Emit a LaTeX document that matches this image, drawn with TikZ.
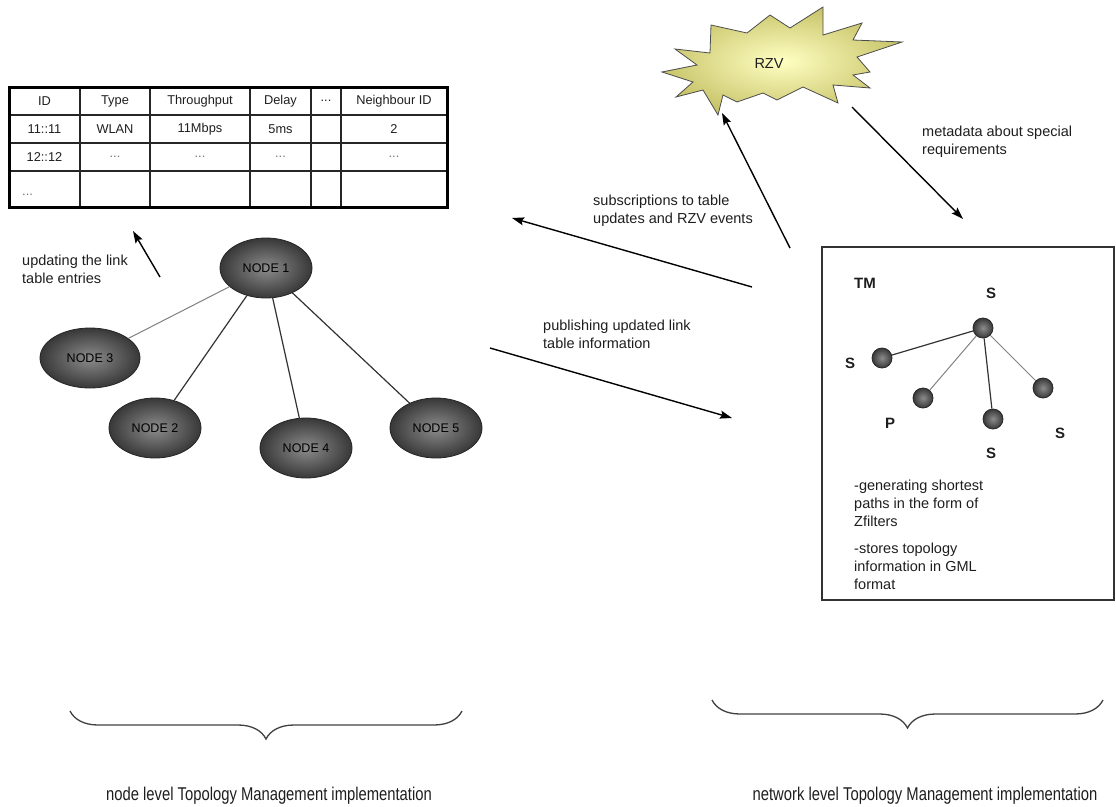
\documentclass[tikz,border=0pt]{standalone}
\usepackage{fontspec}
\setmainfont{Liberation Sans}
\newfontfamily\condensedsans[FakeStretch=0.8]{Liberation Sans}
\usetikzlibrary{arrows.meta,decorations.pathreplacing,shapes.geometric}
\definecolor{inkgray}{HTML}{1E1E1E}
\definecolor{nodelight}{HTML}{8C8C8C}
\definecolor{nodedark}{HTML}{383838}
\definecolor{starlight}{HTML}{FFFFC2}
\definecolor{stardark}{HTML}{C9C56C}
\begin{document}
\begin{tikzpicture}[x=1pt,y=-1pt,
  lbl/.style={font=\fontsize{14.5}{18}\selectfont, text=inkgray, align=left,
    anchor=north west, inner sep=0pt},
  cell/.style={font=\fontsize{12.8}{14}\selectfont, text=inkgray, inner sep=0pt},
  dots/.style={cell, text=black!55},
  oval/.style={ellipse, draw=black!85, line width=0.8pt, inner sep=0pt,
    minimum width=92pt, minimum height=60pt, inner color=nodelight,
    outer color=nodedark, font=\fontsize{12.5}{14}\selectfont, text=black},
  dot/.style={circle, draw=black!85, line width=0.8pt, minimum size=20pt,
    inner sep=0pt, inner color=nodelight, outer color=nodedark},
  tag/.style={font=\bfseries\fontsize{15}{17}\selectfont, text=inkgray, inner sep=0pt},
  link/.style={line width=1.2pt, draw=black!80},
  faint/.style={line width=1pt, draw=black!50},
  flow/.style={line width=1.4pt, draw=black,
    -{Stealth[length=12pt,width=8pt,inset=2pt]}},
  bracket/.style={line width=1.3pt, draw=black!75,
    decorate, decoration={brace, amplitude=28pt}},
  caption/.style={font=\condensedsans\fontsize{18.5}{20}\selectfont, text=inkgray, inner sep=0pt}]
\useasboundingbox (0,0) rectangle (1116,806);

% ---- link table ----
\foreach \cx in {80,150,250,311,341}
  \draw[line width=1.4pt, black!85] (\cx,87) -- (\cx,207);
\foreach \ry in {115,143,171}
  \draw[line width=1.2pt, black!85] (9,\ry) -- (447,\ry);
\draw[line width=3pt, black] (9,87) rectangle (447,207);
\node[cell] (hid) at (44.5,101) {ID};
\node[cell] (htype) at (115,101) {Type};
\node[cell] (hthr) at (200,101) {Throughput};
\node[cell] (hdel) at (280.5,101) {Delay};
\node[cell] (hmore) at (326,101) {...};
\node[cell] (hnb) at (394,101) {Neighbour ID};
\node[cell] (r1id) at (44.5,129) {11::11};
\node[cell] (r1type) at (115,129) {WLAN};
\node[cell] (r1thr) at (200,129) {11Mbps};
\node[cell] (r1del) at (280.5,129) {5ms};
\node[cell] (r1nb) at (394,129) {2};
\node[cell] (r2id) at (44.5,157) {12::12};
\node[dots] (r2type) at (115,157) {...};
\node[dots] (r2thr) at (200,157) {...};
\node[dots] (r2del) at (280.5,157) {...};
\node[dots] (r2nb) at (394,157) {...};
\node[dots, anchor=west] (r3id) at (22,195) {...};

% ---- node level topology ----
\node[oval] (n1) at (266,268) {NODE 1};
\node[oval, minimum width=100pt] (n3) at (90,358) {NODE 3};
\node[oval] (n2) at (155,428) {NODE 2};
\node[oval] (n4) at (306,448) {NODE 4};
\node[oval] (n5) at (436,428) {NODE 5};
\draw[faint] (n1) -- (n3);
\draw[link] (n1) -- (n2);
\draw[link] (n1) -- (n4);
\draw[link] (n1) -- (n5);

\coordinate (upd0) at (160,277);
\coordinate (upd1) at (133,231);
\draw[flow] (upd0) -- (upd1);
\node[lbl] (updlbl) at (22,255) {updating the link\\table entries};

% ---- RZV ----
\draw[draw=black!70, line width=0.8pt, inner color=starlight, outer color=stardark]
  (675,49) -- (710,53) -- (711,25) -- (747,33) -- (770,15) -- (790,28)
  -- (823,7) -- (823,35) -- (862,23) -- (853,40) -- (902,42) -- (857,57)
  -- (870,72) -- (853,75) -- (870,88) -- (833,85) -- (838,103) -- (803,87)
  -- (777,100) -- (763,93) -- (737,102) -- (723,95) -- (718,115) -- (703,90)
  -- (676,97) -- (693,82) -- (662,72) -- (697,65) -- cycle;
\node[font=\fontsize{14.5}{16}\selectfont, text=inkgray, inner sep=0pt] (rzv) at (769,64) {RZV};

% ---- topology manager box ----
\draw[line width=1.3pt, black!80] (822,247) rectangle (1114,600);
\node[tag, anchor=west] (tm) at (854,283) {TM};
\node[dot] (c0) at (983,328) {};
\node[dot] (c1) at (882,358) {};
\node[dot] (c2) at (923,398) {};
\node[dot] (c3) at (993,419) {};
\node[dot] (c4) at (1043,388) {};
\draw[link] (c0) -- (c1);
\draw[faint] (c0) -- (c2);
\draw[link] (c0) -- (c3);
\draw[faint] (c0) -- (c4);
\node[tag] (s0) at (991,293) {S};
\node[tag] (s1) at (850,363) {S};
\node[tag] (p2) at (890,423) {P};
\node[tag] (s3) at (991,453) {S};
\node[tag] (s4) at (1060,433) {S};
\node[lbl] (gen) at (854,480) {-generating shortest\\paths in the form of\\Zfilters};
\node[lbl] (gml) at (854,543) {-stores topology\\information in GML\\format};

% ---- message flows ----
\coordinate (sub0) at (752,287);
\coordinate (sub1) at (512,218);
\draw[flow] (sub0) -- (sub1);
\node[lbl] (sublbl) at (593,195) {subscriptions to table\\updates and RZV events};

\coordinate (pub0) at (490,348);
\coordinate (pub1) at (732,418);
\draw[flow] (pub0) -- (pub1);
\node[lbl] (publbl) at (543,320) {publishing updated link\\table information};

\coordinate (rz0) at (790,248);
\coordinate (rz1) at (722,113);
\draw[flow] (rz0) -- (rz1);

\coordinate (md0) at (852,107);
\coordinate (md1) at (963,219);
\draw[flow] (md0) -- (md1);
\node[lbl] (mdlbl) at (922,126) {metadata about special\\requirements};

% ---- braces and captions ----
\draw[bracket] (462,711) -- (70,711);
\draw[bracket] (1103,700) -- (712,700);
\node[caption] (capl) at (269,796) {node level Topology Management implementation};
\node[caption] (capr) at (925,796) {network level Topology Management implementation};
\end{tikzpicture}
\end{document}
